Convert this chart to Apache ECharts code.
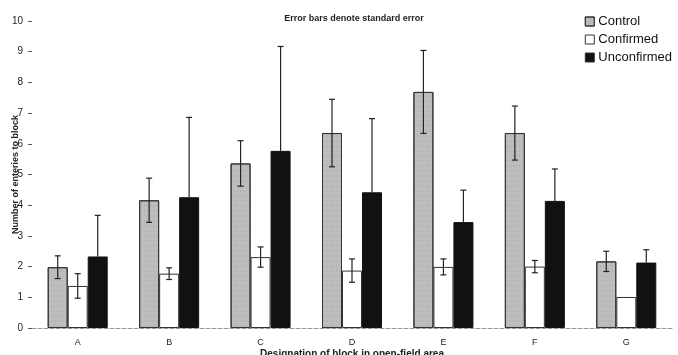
<!DOCTYPE html>
<html>
<head>
<meta charset="utf-8">
<script src="https://cdn.jsdelivr.net/npm/echarts@6/dist/echarts.min.js"></script>
<style>html,body{margin:0;padding:0;background:#fff}#c{width:678px;height:355px}</style>
</head>
<body>
<div id="c"></div>
<script>
const blocks = ['A','B','C','D','E','F','G'];
const control = [1.98, 4.16, 5.36, 6.35, 7.69, 6.35, 2.17];
const controlSE = [0.37, 0.72, 0.74, 1.1, 1.35, 0.88, 0.33];
const confirmed = [1.37, 1.77, 2.31, 1.87, 1.99, 2.0, 1.01];
const confirmedSE = [0.4, 0.19, 0.33, 0.38, 0.26, 0.2, 0];
const unconfirmed = [2.33, 4.26, 5.77, 4.42, 3.45, 4.14, 2.13];
const unconfirmedSE = [1.34, 2.6, 3.4, 2.4, 1.04, 1.04, 0.42];
const yTicks = [0,1,2,3,4,5,6,7,8,9,10];

const BW = 20;
const font = 'Liberation Sans, Arial, sans-serif';

// whiskers; the black bars only show the upper half
function errSeries(vals, se, off, lower){
  return {
    type:'custom', z:10, silent:true,
    data: vals.map((v,i)=>[i, v, se[i]]),
    renderItem:(params, api)=>{
      const i = api.value(0), v = api.value(1), e = api.value(2);
      if(!e) return null;
      const top = api.coord([i, v+e]), bot = api.coord([i, lower ? v-e : v]);
      const x = top[0] + off;
      const st = {stroke:'#222', lineWidth:1.2};
      const kids = [
        {type:'line', shape:{x1:x,y1:top[1],x2:x,y2:bot[1]}, style:st},
        {type:'line', shape:{x1:x-3,y1:top[1],x2:x+3,y2:top[1]}, style:st}
      ];
      if(lower) kids.push({type:'line', shape:{x1:x-3,y1:bot[1],x2:x+3,y2:bot[1]}, style:st});
      return {type:'group', children:kids};
    }
  };
}

const chart = echarts.init(document.getElementById('c'));
chart.setOption({
  animation:false,
  backgroundColor:'#fff',
  title:{text:'Error bars denote standard error', left:349, top:9, textAlign:'center',
    textStyle:{fontFamily:font, fontSize:9, fontWeight:'bold', color:'#222'}},
  legend:{right:1, top:10, orient:'vertical', itemWidth:9, itemHeight:9, itemGap:5, icon:'rect',
    textStyle:{fontFamily:font, fontSize:13, color:'#111', padding:[0,0,0,-1]},
    itemStyle:{borderColor:'#333', borderWidth:1},
    data:['Control','Confirmed','Unconfirmed']},
  grid:{left:32, right:6, top:21, bottom:27, outerBoundsMode:'none'},
  xAxis:{type:'category', data:blocks,
    name:'Designation of block in open-field area', nameLocation:'middle', nameGap:21,
    nameMoveOverlap:false,
    nameTextStyle:{fontFamily:font, fontSize:10, fontWeight:'bold', color:'#222'},
    axisLine:{lineStyle:{color:'#999', type:'dashed', width:1}},
    axisTick:{show:false},
    axisLabel:{fontFamily:font, fontSize:9, color:'#222', margin:10}},
  yAxis:{type:'value', min:yTicks[0], max:yTicks[yTicks.length-1], interval:1,
    name:'Number of enteries to block', nameLocation:'middle', nameGap:12, nameRotate:90,
    nameMoveOverlap:false,
    nameTextStyle:{fontFamily:font, fontSize:9, fontWeight:'bold', color:'#222'},
    axisLine:{show:false},
    axisTick:{show:true, length:4, lineStyle:{color:'#555'}},
    splitLine:{show:false},
    axisLabel:{fontFamily:font, fontSize:10, color:'#222', margin:9}},
  series:[
    {name:'Control', type:'bar', data:control, barWidth:BW, barGap:'0%',
      itemStyle:{color:'#bdbdbd', borderColor:'#333', borderWidth:1,
        decal:{symbol:'rect', symbolSize:0.5, color:'rgba(60,60,60,0.35)', dashArrayX:[1,2], dashArrayY:[2,3], rotation:0}}},
    {name:'Confirmed', type:'bar', data:confirmed, barWidth:BW,
      itemStyle:{color:'#fff', borderColor:'#333', borderWidth:1}},
    {name:'Unconfirmed', type:'bar', data:unconfirmed, barWidth:BW,
      itemStyle:{color:'#111', borderColor:'#111', borderWidth:1}},
    errSeries(control, controlSE, -BW, true),
    errSeries(confirmed, confirmedSE, 0, true),
    errSeries(unconfirmed, unconfirmedSE, BW, false)
  ]
});
</script>
</body>
</html>
